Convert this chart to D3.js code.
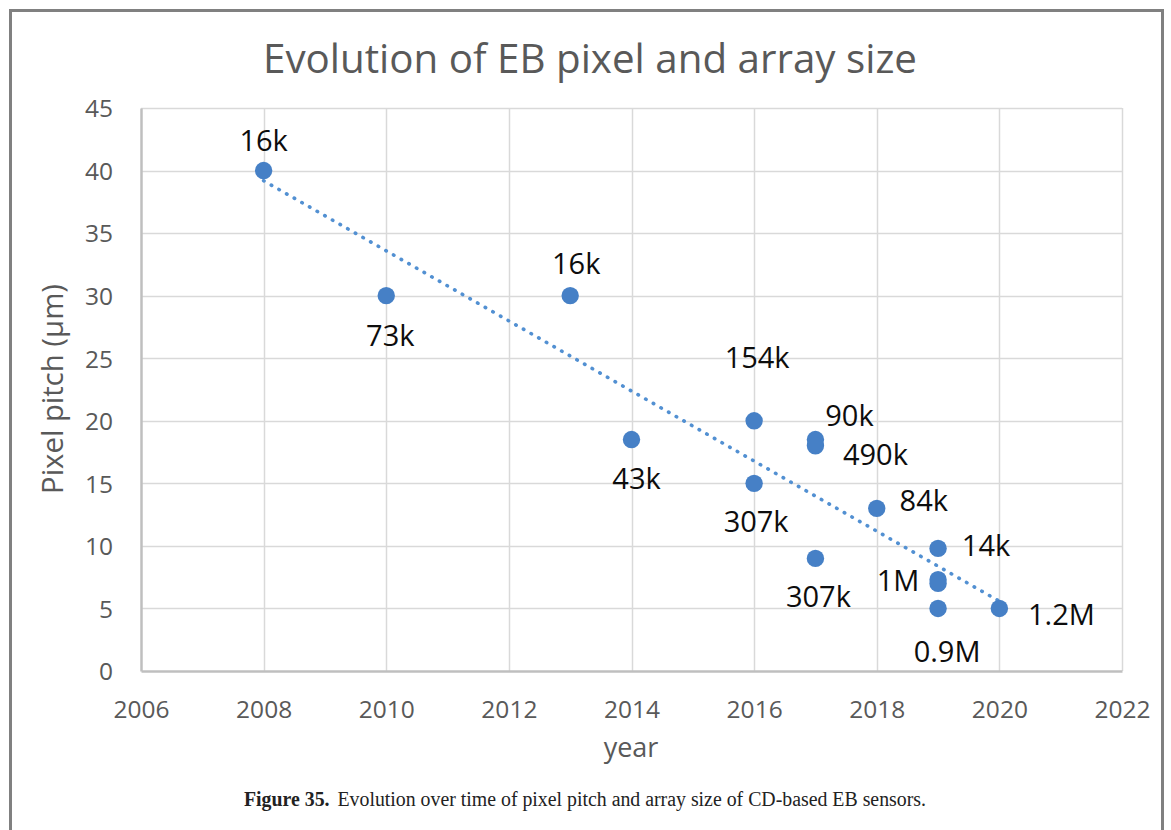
<!DOCTYPE html>
<html>
<head>
<meta charset="utf-8">
<script src="https://cdn.jsdelivr.net/npm/d3@7"></script>
<style>
  html, body { margin: 0; padding: 0; background: #fff; }
  svg { display: block; }
</style>
</head>
<body>
<svg id="chart" width="1171" height="830"></svg>
<script>
// Sensor survey: year of publication, pixel pitch (µm) and array size label
const years   = [2008, 2010, 2013, 2014, 2016, 2016, 2017, 2017, 2017, 2018, 2019, 2019, 2019, 2019, 2020];
const pitches = [40,   30,   30,   18.5, 20,   15,   18.5, 18,   9,    13,   9.8,  7.3,  7.0,  5,    5];
const sizes   = ["16k","73k","16k","43k","154k","307k","90k","490k","307k","84k","14k","1M","", "0.9M","1.2M"];

const xTicks = [2006, 2008, 2010, 2012, 2014, 2016, 2018, 2020, 2022];
const yTicks = [0, 5, 10, 15, 20, 25, 30, 35, 40, 45];

// label placement relative to each marker (dx, dy to text baseline centre)
const labelOffsets = [
  [0, -20], [4, 50], [6, -22], [5, 49], [3, -53], [2, 49], [34, -14], [60, 19],
  [3, 49], [47, 3], [48, 8], [-40, 11], [0, 0], [9, 54], [62, 17]
];

const svg = d3.select("#chart");
const plot = { left: 141, right: 1122, top: 108, bottom: 671 };

const x = d3.scaleLinear().domain([2006, 2022]).range([plot.left, plot.right]);
const y = d3.scaleLinear().domain([0, 45]).range([plot.bottom, plot.top]);

const sans = "'Open Sans', 'Noto Sans', sans-serif";
const blue = "#4680c6";
const grey = "#595959";

// outer frame
svg.append("rect")
  .attr("x", 10.5).attr("y", 10.5).attr("width", 1152).attr("height", 840)
  .attr("fill", "none").attr("stroke", "#808080").attr("stroke-width", 3);

// scale font size of a text element so that it spans the given width
function fitWidth(sel, target) {
  const node = sel.node();
  const fs = parseFloat(sel.attr("font-size"));
  const w = node.getComputedTextLength();
  sel.attr("font-size", (fs * target / w).toFixed(2));
}

// title
svg.append("text")
  .attr("x", 590).attr("y", 73)
  .attr("text-anchor", "middle")
  .attr("font-family", sans).attr("font-size", 40).attr("fill", grey)
  .text("Evolution of EB pixel and array size")
  .call(fitWidth, 654);

// gridlines
const grid = svg.append("g");
grid.selectAll("line.h").data(yTicks.filter(d => d > 0)).join("line")
  .attr("x1", plot.left).attr("x2", plot.right)
  .attr("y1", d => Math.round(y(d)) + 0.5).attr("y2", d => Math.round(y(d)) + 0.5)
  .attr("stroke", "#d9d9d9").attr("stroke-width", 1.5);
grid.selectAll("line.v").data(xTicks.filter(d => d > 2006)).join("line")
  .attr("y1", plot.top).attr("y2", plot.bottom)
  .attr("x1", d => Math.round(x(d)) + 0.5).attr("x2", d => Math.round(x(d)) + 0.5)
  .attr("stroke", "#d9d9d9").attr("stroke-width", 1.5);

// axes
const xAxis = svg.append("g")
  .attr("transform", `translate(0,${plot.bottom})`)
  .call(d3.axisBottom(x).tickValues(xTicks).tickFormat(d3.format("d")).tickSize(0).tickPadding(28));
const yAxis = svg.append("g")
  .attr("transform", `translate(${plot.left},0)`)
  .call(d3.axisLeft(y).tickValues(yTicks).tickSize(0).tickPadding(28));

[xAxis, yAxis].forEach(g => {
  g.select(".domain").attr("stroke", "#bfbfbf").attr("stroke-width", 2.5);
  g.selectAll("text").attr("font-family", sans).attr("font-size", 24.5).attr("fill", grey);
});
xAxis.selectAll("text").attr("dy", "0.71em").attr("y", 30);
yAxis.selectAll("text").attr("x", -28).attr("dy", "0.36em");

// axis titles
svg.append("text")
  .attr("x", 631).attr("y", 757)
  .attr("text-anchor", "middle")
  .attr("font-family", sans).attr("font-size", 27).attr("fill", grey)
  .text("year");
svg.append("text")
  .attr("transform", "translate(63,389) rotate(-90)")
  .attr("text-anchor", "middle")
  .attr("font-family", sans).attr("font-size", 26).attr("fill", grey)
  .text("Pixel pitch (µm)")
  .call(fitWidth, 210);

// linear trend over the measured points
const pts = years.map((yr, i) => ({ yr, p: pitches[i], label: sizes[i], off: labelOffsets[i] }));
const mx = d3.mean(pts, d => d.yr), my = d3.mean(pts, d => d.p);
const slope = d3.sum(pts, d => (d.yr - mx) * (d.p - my)) / d3.sum(pts, d => (d.yr - mx) ** 2);
const trend = yr => my + slope * (yr - mx);
const [x0, x1] = d3.extent(years);

svg.append("path")
  .attr("d", d3.line().x(d => x(d)).y(d => y(trend(d)))([x0, x1]))
  .attr("fill", "none")
  .attr("stroke", "#5290d2")
  .attr("stroke-width", 3.6)
  .attr("stroke-linecap", "round")
  .attr("stroke-dasharray", "0.5 8.3");

// markers
svg.append("g").selectAll("circle").data(pts).join("circle")
  .attr("cx", d => x(d.yr)).attr("cy", d => y(d.p)).attr("r", 8.7)
  .attr("fill", blue);

// array size labels
svg.append("g").selectAll("text").data(pts.filter(d => d.label)).join("text")
  .attr("x", d => x(d.yr) + d.off[0])
  .attr("y", d => y(d.p) + d.off[1])
  .attr("text-anchor", "middle")
  .attr("font-family", sans).attr("font-size", 29).attr("fill", "#0d0d0d")
  .text(d => d.label);

// caption
const cap = svg.append("text")
  .attr("x", 585).attr("y", 806)
  .attr("text-anchor", "middle")
  .attr("font-family", "'Liberation Serif', 'DejaVu Serif', serif")
  .attr("font-size", 20).attr("fill", "#222")
  .attr("textLength", 682).attr("lengthAdjust", "spacingAndGlyphs");
cap.append("tspan").attr("font-weight", "bold").text("Figure 35.");
cap.append("tspan").attr("dx", 8).text("Evolution over time of pixel pitch and array size of CD-based EB sensors.");
</script>
</body>
</html>
